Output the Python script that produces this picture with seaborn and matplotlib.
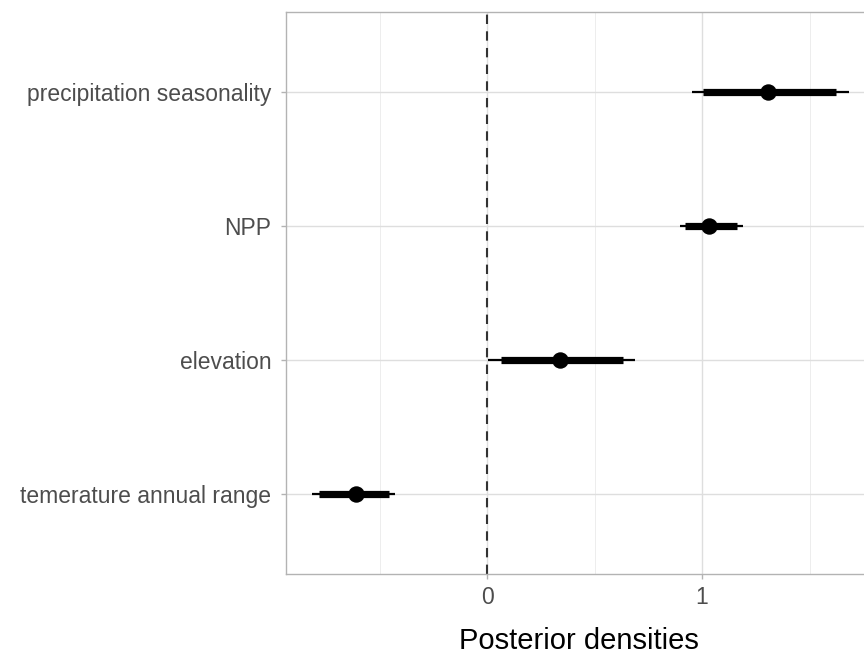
import numpy as np
import matplotlib
matplotlib.use("Agg")
from matplotlib import pyplot as plt
from matplotlib.ticker import MultipleLocator
import seaborn as sns
import pandas as pd

# ----------- data -----------------------------------
variables = ["precipitation seasonality", "NPP", "elevation", "temerature annual range"]
median = [1.307, 1.033, 0.340, -0.609]
inner_lo = [1.005, 0.921, 0.065, -0.781]
inner_hi = [1.623, 1.163, 0.633, -0.456]
outer_lo = [0.953, 0.898, 0.005, -0.814]
outer_hi = [1.684, 1.191, 0.688, -0.428]

df = pd.DataFrame({
    "variable": variables,
    "median": median,
    "inner_lo": inner_lo,
    "inner_hi": inner_hi,
    "outer_lo": outer_lo,
    "outer_hi": outer_hi,
})
df["pos"] = np.arange(len(df))

sns.set_theme(style="white")
plt.rcParams["font.family"] = ["Liberation Sans", "DejaVu Sans"]

fig = plt.figure(figsize=(8.64, 6.56), dpi=100)
ax = fig.add_axes([286 / 864, 1 - 574 / 656, 1 - 286 / 864 + 0.01, (574 - 12) / 656])

# grid like ggplot theme_light
ax.xaxis.set_major_locator(MultipleLocator(1))
ax.xaxis.set_minor_locator(MultipleLocator(0.5))
ax.grid(which="major", axis="both", color="#DEDEDE", linewidth=1.0)
ax.grid(which="minor", axis="x", color="#EDEDED", linewidth=0.7)
ax.set_axisbelow(True)

ax.axvline(0, color="#333333", linestyle=(0, (4.5, 3.5)), linewidth=1.5, zorder=2)

ax.hlines(df["pos"], df["outer_lo"], df["outer_hi"], color="black", linewidth=1.6, zorder=3)
ax.hlines(df["pos"], df["inner_lo"], df["inner_hi"], color="black", linewidth=5.2, zorder=4)
sns.scatterplot(data=df, x="median", y="pos", ax=ax, color="black", s=140,
                edgecolor="black", linewidth=0, zorder=5, legend=False)

ax.set_yticks(df["pos"])
ax.set_yticklabels(df["variable"])
ax.set_ylim(len(df) - 1 + 0.6, -0.6)
ax.set_xlim(-0.935, 1.753 + 0.01 * 864 / 215)

for side in ["left", "top", "bottom", "right"]:
    ax.spines[side].set_color("#B3B3B3")
    ax.spines[side].set_linewidth(1.0)

ax.tick_params(axis="both", which="major", length=3.6, width=1, color="#B3B3B3",
               labelsize=16.5, labelcolor="#4D4D4D", pad=7, left=True, bottom=True)
ax.tick_params(axis="x", which="major", pad=5)
ax.tick_params(axis="x", which="minor", length=0)
ax.set_xlabel("Posterior densities", fontsize=21, color="black", labelpad=13)
ax.set_ylabel("")

fig.savefig("out.png", dpi=100)
